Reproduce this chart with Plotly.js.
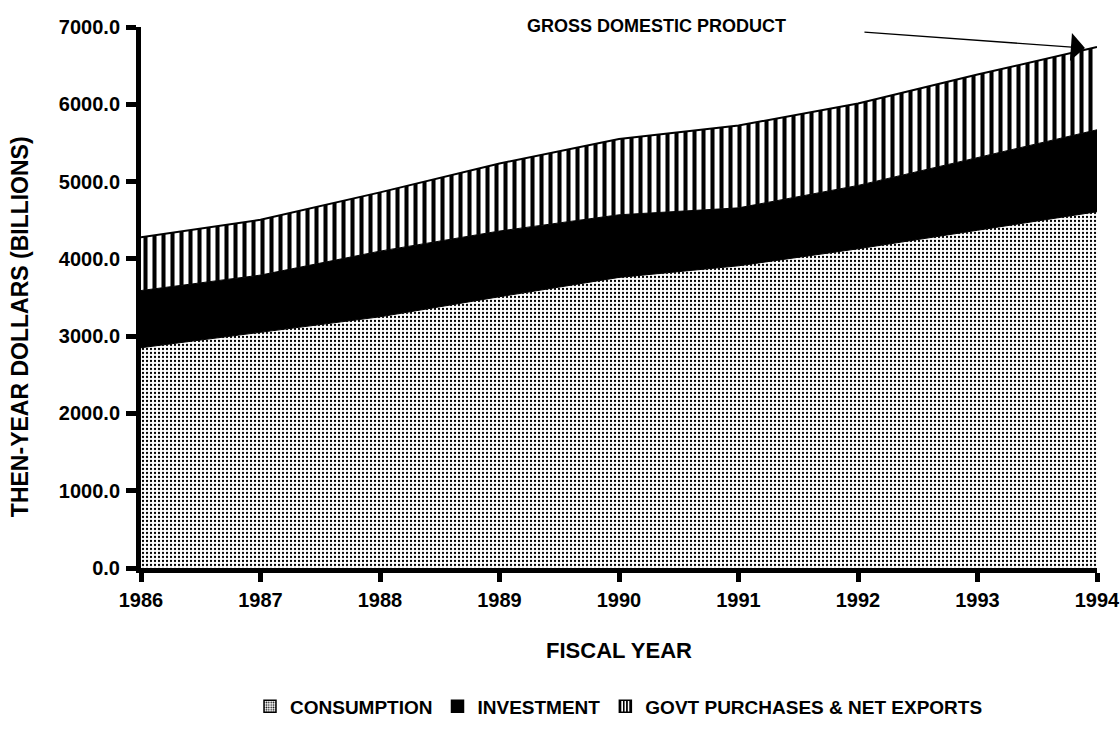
<!DOCTYPE html>
<html>
<head>
<meta charset="utf-8">
<script src="https://cdn.plot.ly/plotly-3.0.1.min.js"></script>
<style>
  html, body { margin: 0; padding: 0; background: #ffffff; }
  #chart { width: 1120px; height: 732px; }
</style>
</head>
<body>
<div id="chart"></div>
<script>
// Fiscal years
const years = [1986, 1987, 1988, 1989, 1990, 1991, 1992, 1993, 1994];
// Then-year dollars (billions), stacked components
const consumption = [2850, 3050, 3250, 3510, 3760, 3910, 4130, 4370, 4610];
const investment  = [ 740,  740,  850,  850,  810,  750,  820,  940, 1060];
const govtNetExp  = [ 690,  715,  760,  875,  980, 1066, 1060, 1075, 1070];
// Axis ticks
const yTicks = [0, 1000, 2000, 3000, 4000, 5000, 6000, 7000];
const legendNames = ['CONSUMPTION', 'INVESTMENT', 'GOVT PURCHASES & NET EXPORTS'];

const FONT = 'Liberation Sans, Arial, Helvetica, sans-serif';

const dotPattern = { shape: '.', size: 4, solidity: 0.25, fgcolor: '#000000', bgcolor: '#ffffff' };
const stripePattern = { shape: '|', size: 9, solidity: 0.45, fgcolor: '#000000', bgcolor: '#ffffff' };

const traces = [
  {
    type: 'scatter', mode: 'lines', x: years, y: consumption, stackgroup: 'gdp',
    line: { color: '#000000', width: 1 }, fillcolor: '#ffffff', fillpattern: dotPattern,
    showlegend: false, hoverinfo: 'skip'
  },
  {
    type: 'scatter', mode: 'lines', x: years, y: investment, stackgroup: 'gdp',
    line: { color: '#000000', width: 1 }, fillcolor: '#000000',
    showlegend: false, hoverinfo: 'skip'
  },
  {
    type: 'scatter', mode: 'lines', x: years, y: govtNetExp, stackgroup: 'gdp',
    line: { color: '#000000', width: 2 }, fillcolor: '#ffffff', fillpattern: stripePattern,
    showlegend: false, hoverinfo: 'skip'
  },
  // legend keys (no data drawn)
  { type: 'bar', x: [null], y: [null], name: legendNames[0],
    marker: { color: '#ffffff', line: { color: '#000000', width: 1.5 }, pattern: { shape: '.', size: 3, solidity: 0.35, fgcolor: '#000', bgcolor: '#fff' } } },
  { type: 'bar', x: [null], y: [null], name: legendNames[1],
    marker: { color: '#000000', line: { color: '#000000', width: 1.5 } } },
  { type: 'bar', x: [null], y: [null], name: legendNames[2],
    marker: { color: '#ffffff', line: { color: '#000000', width: 1.5 }, pattern: { shape: '|', size: 4, solidity: 0.5, fgcolor: '#000', bgcolor: '#fff' } } }
];

const layout = {
  width: 1120, height: 732,
  paper_bgcolor: '#ffffff', plot_bgcolor: '#ffffff',
  margin: { l: 141, r: 23, t: 27, b: 164 },
  font: { family: FONT, color: '#000000' },
  showlegend: true,
  legend: {
    orientation: 'h', xref: 'paper', x: 0.5, xanchor: 'center',
    yref: 'container', y: 0.035, yanchor: 'middle',
    font: { family: FONT, size: 19, weight: 'bold', color: '#000000' },
    itemwidth: 30, traceorder: 'normal', bgcolor: 'rgba(0,0,0,0)'
  },
  xaxis: {
    type: 'linear', range: [1986, 1994], tickmode: 'array', tickvals: years,
    ticktext: years.map(String),
    showgrid: false, zeroline: false,
    showline: true, linecolor: '#000000', linewidth: 5,
    ticks: 'outside', ticklen: 9, tickwidth: 5, tickcolor: '#000000',
    ticklabelstandoff: 1, ticklabeloverflow: 'allow',
    tickfont: { family: FONT, size: 20, weight: 'bold', color: '#000000' },
    title: { text: 'FISCAL YEAR', standoff: 34,
      font: { family: FONT, size: 22, weight: 'bold', color: '#000000' } },
    automargin: false, fixedrange: true
  },
  yaxis: {
    range: [0, 7000], tickmode: 'array', tickvals: yTicks, tickformat: '.1f',
    showgrid: false, zeroline: false,
    showline: true, linecolor: '#000000', linewidth: 5,
    ticks: 'outside', ticklen: 10, tickwidth: 5, tickcolor: '#000000',
    ticklabelstandoff: 2, ticklabeloverflow: 'allow',
    tickfont: { family: FONT, size: 20, weight: 'bold', color: '#000000' },
    automargin: false, fixedrange: true
  },
  annotations: [
    {
      text: 'THEN-YEAR DOLLARS (BILLIONS)', showarrow: false, textangle: -90,
      xref: 'paper', yref: 'paper', x: -0.1266, y: 0.447, xanchor: 'center', yanchor: 'middle',
      font: { family: FONT, size: 23, weight: 'bold', color: '#000000' }
    },
    {
      text: 'GROSS DOMESTIC PRODUCT', showarrow: false,
      xref: 'paper', yref: 'paper', x: 0.539, y: 1.002, xanchor: 'center', yanchor: 'middle',
      font: { family: FONT, size: 18, weight: 'bold', color: '#000000' }
    },
    {
      text: '', showarrow: true,
      xref: 'paper', yref: 'paper', x: 0.9874, y: 0.961,
      axref: 'pixel', ayref: 'pixel', ax: -222, ay: -16,
      arrowhead: 1, arrowsize: 3.6, arrowwidth: 1.3, arrowcolor: '#000000', standoff: 0
    }
  ]
};

Plotly.newPlot('chart', traces, layout, { staticPlot: true, displayModeBar: false });
</script>
</body>
</html>
